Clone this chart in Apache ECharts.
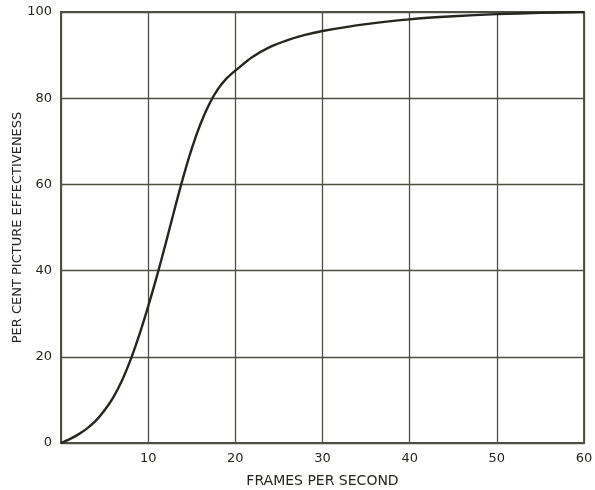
<!DOCTYPE html>
<html>
<head>
<meta charset="utf-8">
<script src="https://cdn.jsdelivr.net/npm/echarts@6/dist/echarts.min.js"></script>
<style>html,body{margin:0;padding:0;background:#fff;}#c{width:595px;height:490px;}</style>
</head>
<body>
<div id="c"></div>
<script>
const framesPerSecond = [0, 1, 2, 3, 4, 5, 6, 7, 8, 9, 10, 11, 12, 13, 14, 15, 16, 17, 18, 19, 20, 22, 24, 26, 28, 30, 35, 40, 45, 50, 55, 60];
const effectiveness   = [0, 0.9, 2.0, 3.4, 5.2, 7.6, 10.6, 14.5, 19.4, 25.2, 31.7, 38.7, 46.2, 54.0, 61.5, 68.3, 74.0, 78.6, 82.1, 84.6, 86.4, 89.6, 91.9, 93.5, 94.7, 95.6, 97.2, 98.3, 99.0, 99.5, 99.8, 100];
const xTicks = [0, 10, 20, 30, 40, 50, 60];
const yTicks = [0, 20, 40, 60, 80, 100];

const ink = '#262620';
const gridInk = '#4e4e44';
const font = 'DejaVu Sans';

const chart = echarts.init(document.getElementById('c'), null, {renderer: 'canvas'});
chart.setOption({
  backgroundColor: '#ffffff',
  animation: false,
  grid: {left: 61, right: 11, top: 12, bottom: 47, show: true, borderColor: gridInk, borderWidth: 1.8,
    containLabel: false, outerBoundsMode: 'none'},
  xAxis: {
    type: 'value', min: xTicks[0], max: xTicks[xTicks.length - 1], interval: 10,
    name: 'FRAMES PER SECOND', nameLocation: 'middle', nameGap: 31, nameMoveOverlap: false,
    nameTextStyle: {color: ink, fontFamily: font, fontSize: 14},
    axisLine: {show: true, lineStyle: {color: gridInk, width: 1.8}},
    axisTick: {show: false},
    splitLine: {show: true, lineStyle: {color: gridInk, width: 1.3}},
    axisLabel: {color: ink, fontFamily: font, fontSize: 13, margin: 9,
      formatter: v => (v === 0 ? '' : String(v))}
  },
  yAxis: {
    type: 'value', min: yTicks[0], max: yTicks[yTicks.length - 1], interval: 20,
    name: 'PER CENT PICTURE EFFECTIVENESS', nameLocation: 'middle', nameGap: 37, nameMoveOverlap: false,
    nameTextStyle: {color: ink, fontFamily: font, fontSize: 13},
    axisLine: {show: true, lineStyle: {color: gridInk, width: 1.8}},
    axisTick: {show: false},
    splitLine: {show: true, lineStyle: {color: gridInk, width: 1.3}},
    axisLabel: {color: ink, fontFamily: font, fontSize: 13, margin: 9}
  },
  series: [{
    type: 'line',
    data: framesPerSecond.map((x, i) => [x, effectiveness[i]]),
    smooth: 0.3,
    showSymbol: false,
    lineStyle: {color: ink, width: 2.4},
    z: 5
  }]
});
</script>
</body>
</html>
